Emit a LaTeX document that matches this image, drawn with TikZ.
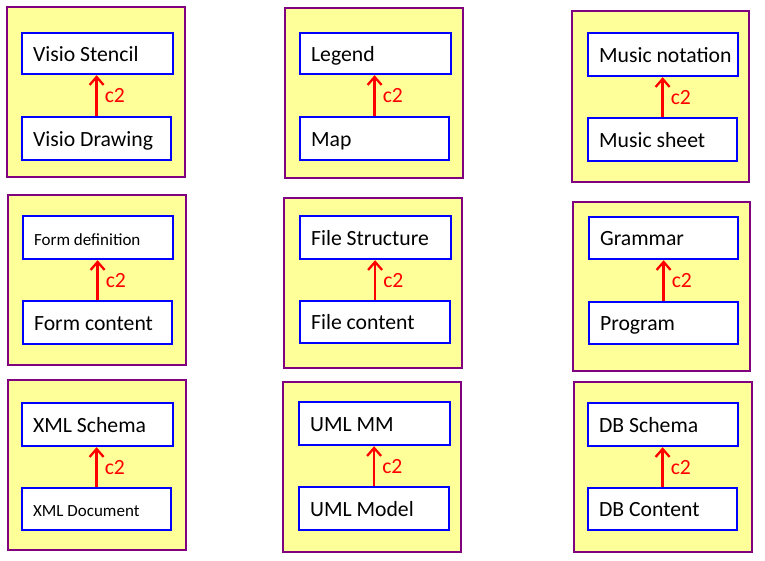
\documentclass[tikz,border=0pt]{standalone}
\usepackage{fontspec}
\setmainfont{Carlito}
\usetikzlibrary{arrows.meta}
\definecolor{pfill}{HTML}{FFFF99}
\definecolor{pline}{HTML}{800080}
\definecolor{bline}{HTML}{0000FF}
\definecolor{rline}{HTML}{FF0000}
\newcommand\fbig{\fontsize{21.7}{24}\selectfont}
\newcommand\fsml{\fontsize{17}{20}\selectfont}
% \bx{name}{L}{T}{R}{B}{font}{text}
\newcommand\bx[7]{\node[ibox, font=#6, minimum height={#5-#3}, anchor=north west] (#1) at (#2,#3) {\makebox[\dimexpr #4pt-#2pt-22pt\relax][l]{#7}};}
\begin{document}
\begin{tikzpicture}[x=1pt,y=-1pt,
  obox/.style={draw=pline, fill=pfill, line width=2pt},
  ibox/.style={draw=bline, fill=white, line width=2.2pt, inner xsep=11pt, inner ysep=0pt, text height=1.55em, text depth=0pt},
  arr/.style={draw=rline, line width=2.3pt, -{Straight Barb[length=8pt,width=14pt]}},
  lab/.style={anchor=west, inner sep=0pt, xshift=7pt, pos=0.4, font=\fbig, text=rline, text height=0.64em, text depth=0pt}]
\useasboundingbox (0,0) rectangle (765,561);
% panel 1
\draw[obox] (7,7) rectangle (185,177);
\bx{t1}{21}{32}{172}{73}{\fbig}{Visio Stencil}
\bx{b1}{21}{116}{170}{159}{\fbig}{Visio Drawing}
\draw[arr] (b1.north) -- node[lab] (c1) {c2} (b1.north |- t1.south);
% panel 2
\draw[obox] (285,8) rectangle (463,178);
\bx{t2}{299}{32}{450}{73}{\fbig}{Legend}
\bx{b2}{299}{116}{448}{159}{\fbig}{Map}
\draw[arr] (b2.north) -- node[lab] (c2) {c2} (b2.north |- t2.south);
% panel 3
\draw[obox] (572,11) rectangle (749,182);
\bx{t3}{587}{32}{737}{75}{\fbig}{Music notation}
\bx{b3}{587}{117}{736}{160}{\fbig}{Music sheet}
\draw[arr] (b3.north) -- node[lab] (c3) {c2} (b3.north |- t3.south);
% panel 4
\draw[obox] (8,195) rectangle (186,365);
\bx{t4}{22}{215}{172}{258}{\fsml}{Form definition}
\bx{b4}{22}{300}{171}{343}{\fbig}{Form content}
\draw[arr] (b4.north) -- node[lab] (c4) {c2} (b4.north |- t4.south);
% panel 5
\draw[obox] (284,198) rectangle (462,368);
\bx{t5}{299}{215}{450}{258}{\fbig}{File Structure}
\bx{b5}{299}{300}{449}{342}{\fbig}{File content}
\draw[arr] (b5.north) -- node[lab] (c5) {c2} (b5.north |- t5.south);
% panel 6
\draw[obox] (573,202) rectangle (750,371);
\bx{t6}{588}{216}{737}{258}{\fbig}{Grammar}
\bx{b6}{588}{301}{737}{343}{\fbig}{Program}
\draw[arr] (b6.north) -- node[lab] (c6) {c2} (b6.north |- t6.south);
% panel 7
\draw[obox] (8,380) rectangle (186,550);
\bx{t7}{21}{402}{172}{445}{\fbig}{XML Schema}
\bx{b7}{21}{487}{170}{529}{\fsml}{XML Document}
\draw[arr] (b7.north) -- node[lab] (c7) {c2} (b7.north |- t7.south);
% panel 8
\draw[obox] (283,382) rectangle (461,552);
\bx{t8}{298}{401}{449}{444}{\fbig}{UML MM}
\bx{b8}{298}{486}{448}{529}{\fbig}{UML Model}
\draw[arr] (b8.north) -- node[lab] (c8) {c2} (b8.north |- t8.south);
% panel 9
\draw[obox] (574,382) rectangle (752,552);
\bx{t9}{587}{402}{737}{445}{\fbig}{DB Schema}
\bx{b9}{587}{487}{736}{529}{\fbig}{DB Content}
\draw[arr] (b9.north) -- node[lab] (c9) {c2} (b9.north |- t9.south);
\end{tikzpicture}
\end{document}
